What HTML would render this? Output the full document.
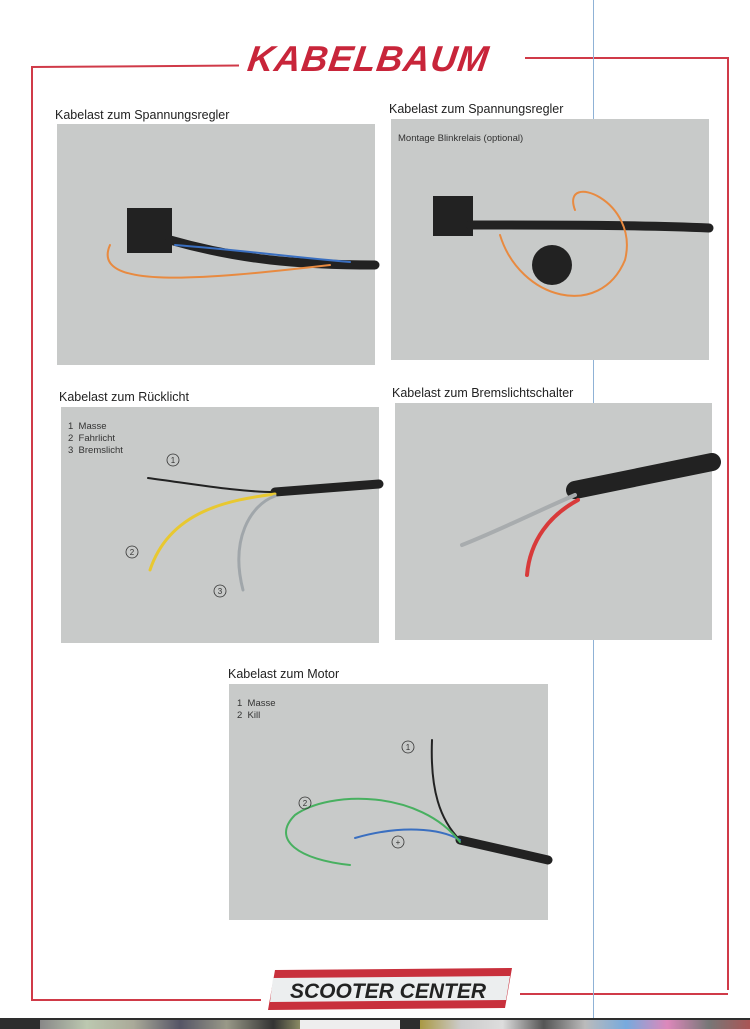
<!DOCTYPE html>
<html><head><style>
body{margin:0;width:750px;height:1029px;background:#fff;position:relative;overflow:hidden;font-family:"Liberation Sans",sans-serif}
.a{position:absolute}
.ph{position:absolute;background:#c8cac9}
.lb{position:absolute;font-size:12.5px;color:#222}
.sm{position:absolute;font-size:9.5px;color:#333;line-height:12px}
.r{position:absolute;background:#d03a48}
</style></head><body>
<div class="r" style="left:31px;top:66px;width:1.5px;height:933px"></div>
<div class="r" style="left:31px;top:66px;width:208px;height:1.5px;transform:rotate(-0.4deg);transform-origin:left"></div>
<div class="r" style="left:525px;top:57px;width:203px;height:1.5px"></div>
<div class="r" style="left:727px;top:57px;width:1.5px;height:933px"></div>
<div class="r" style="left:31px;top:999px;width:230px;height:1.5px"></div>
<div class="r" style="left:520px;top:993px;width:208px;height:1.5px"></div>
<div class="a" style="left:593px;top:0;width:1px;height:1018px;background:#8fb2d6"></div>
<div class="a" style="left:248px;top:38px;font-size:36px;font-weight:bold;font-style:italic;color:#c8253a;letter-spacing:1px;transform:skewX(-8deg)">KABELBAUM</div>

<div class="lb" style="left:55px;top:108px">Kabelast zum Spannungsregler</div>
<div class="ph" style="left:57px;top:124px;width:318px;height:241px"></div>
<div class="lb" style="left:389px;top:102px">Kabelast zum Spannungsregler</div>
<div class="ph" style="left:391px;top:119px;width:318px;height:241px"></div>
<div class="sm" style="left:398px;top:133px">Montage Blinkrelais (optional)</div>
<div class="lb" style="left:59px;top:390px">Kabelast zum Rücklicht</div>
<div class="ph" style="left:61px;top:407px;width:318px;height:236px"></div>
<div class="sm" style="left:68px;top:421px">1&nbsp; Masse<br>2&nbsp; Fahrlicht<br>3&nbsp; Bremslicht</div>
<div class="lb" style="left:392px;top:386px">Kabelast zum Bremslichtschalter</div>
<div class="ph" style="left:395px;top:403px;width:317px;height:237px"></div>
<div class="lb" style="left:228px;top:667px">Kabelast zum Motor</div>
<div class="ph" style="left:229px;top:684px;width:319px;height:236px"></div>
<div class="sm" style="left:237px;top:698px">1&nbsp; Masse<br>2&nbsp; Kill</div>

<svg class="a" style="left:0;top:0" width="750" height="1029" fill="none" stroke-linecap="round">
<rect x="127" y="208" width="45" height="45" fill="#222"/>
<path d="M170 240 C240 260 300 265 375 265" stroke="#222" stroke-width="9"/>
<path d="M110 245 C90 290 200 280 330 265" stroke="#e88a40" stroke-width="2"/>
<path d="M175 245 C240 250 300 258 350 262" stroke="#3a6fc0" stroke-width="2"/>
<rect x="433" y="196" width="40" height="40" fill="#222"/>
<circle cx="552" cy="265" r="20" fill="#222"/>
<path d="M470 225 C560 225 640 225 709 228" stroke="#222" stroke-width="9"/>
<path d="M500 235 C520 300 600 320 625 260 C640 200 560 170 575 210" stroke="#e88a40" stroke-width="2"/>
<path d="M275 492 L379 484" stroke="#222" stroke-width="9"/>
<path d="M148 478 C200 485 240 492 275 492" stroke="#222" stroke-width="2"/>
<path d="M150 570 C170 510 230 500 275 494" stroke="#e8c830" stroke-width="3"/>
<path d="M243 590 C230 540 250 505 275 496" stroke="#a0a6aa" stroke-width="3"/>
<path d="M575 490 L712 462" stroke="#222" stroke-width="18"/>
<path d="M462 545 C500 530 540 510 575 495" stroke="#a8acae" stroke-width="4"/>
<path d="M527 575 C530 540 550 515 578 500" stroke="#d83a3a" stroke-width="4"/>
<path d="M460 840 L548 860" stroke="#222" stroke-width="9"/>
<path d="M432 740 C430 790 440 820 460 840" stroke="#222" stroke-width="2"/>
<path d="M355 838 C400 825 440 828 460 840" stroke="#3a6fc0" stroke-width="2"/>
<path d="M460 842 C420 790 330 790 295 815 C270 840 300 860 350 865" stroke="#48b060" stroke-width="2"/>
<g stroke="#333" stroke-width="0.8"><circle cx="173" cy="460" r="6"/><circle cx="132" cy="552" r="6"/><circle cx="220" cy="591" r="6"/><circle cx="408" cy="747" r="6"/><circle cx="305" cy="803" r="6"/><circle cx="398" cy="842" r="6"/></g>
<g font-family="Liberation Sans" font-size="8" fill="#333" text-anchor="middle"><text x="173" y="463">1</text><text x="132" y="555">2</text><text x="220" y="594">3</text><text x="408" y="750">1</text><text x="305" y="806">2</text><text x="398" y="845">+</text></g>
<polygon points="275,970 512,968 505,1008 268,1010" fill="#c8303c"/>
<polygon points="273,978 510,976 506,1000 270,1002" fill="#eceeef"/>
<text x="388" y="998" font-family="Liberation Sans" font-size="21" font-weight="bold" font-style="italic" fill="#222" text-anchor="middle">SCOOTER CENTER</text>
</svg>
<div class="a" style="left:0;top:1018px;width:750px;height:11px;background:#2e2e2e"></div>
<div class="a" style="left:40px;top:1020px;width:280px;height:9px;background:linear-gradient(90deg,#888,#bcc8b0,#aa9,#556,#998,#333,#cc8)"></div>
<div class="a" style="left:300px;top:1020px;width:100px;height:9px;background:#eee"></div>
<div class="a" style="left:420px;top:1020px;width:330px;height:9px;background:linear-gradient(90deg,#a94,#ccc,#ddd,#555,#bbb,#7ad,#d8b,#777,#a55)"></div>
</body></html>
